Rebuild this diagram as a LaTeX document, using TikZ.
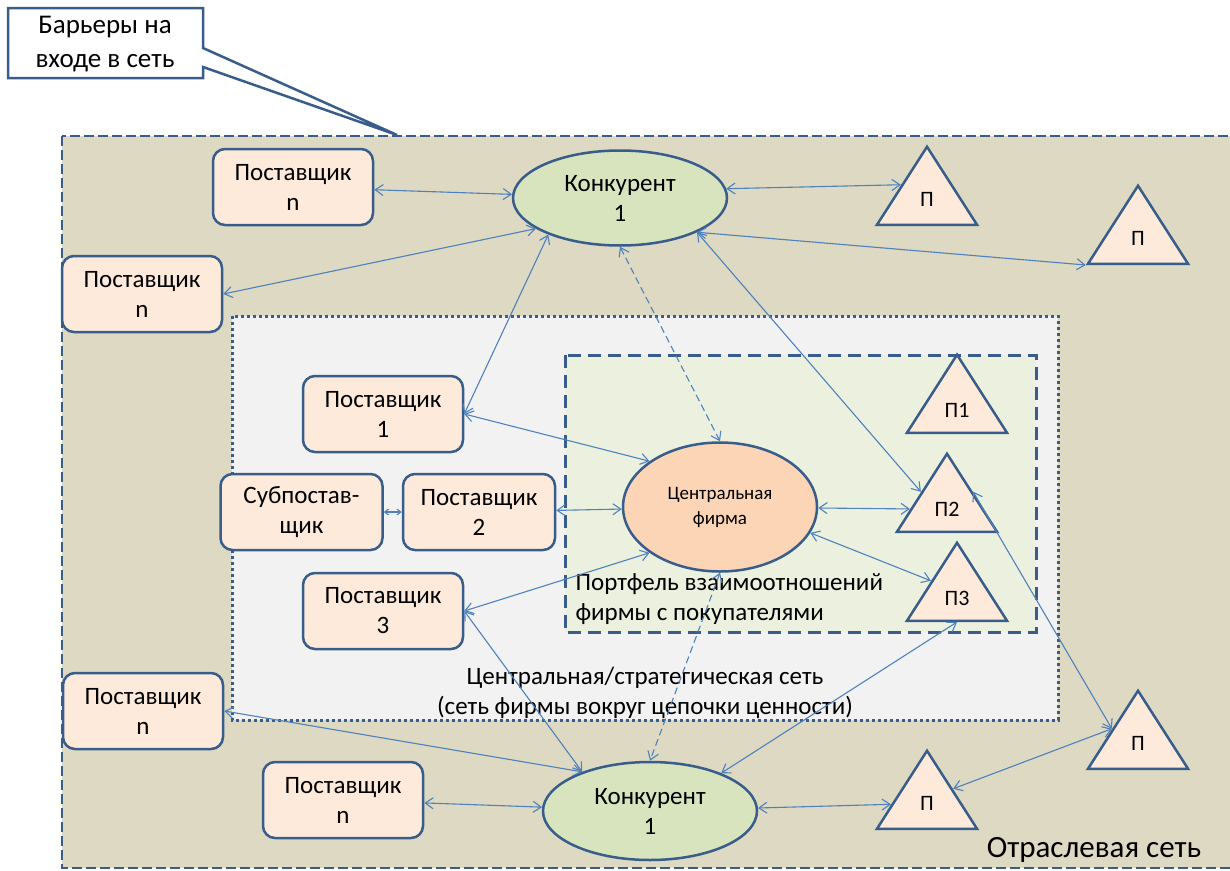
\documentclass[tikz,border=0pt]{standalone}
\usepackage{fontspec}
\setmainfont{Carlito}
\usetikzlibrary{shapes.geometric,arrows.meta,positioning}

\definecolor{edgeblue}{RGB}{56,93,138}
\definecolor{linkblue}{RGB}{79,129,189}
\definecolor{sandbg}{RGB}{221,217,195}
\definecolor{greybg}{RGB}{242,242,242}
\definecolor{greenbg}{RGB}{235,241,222}
\definecolor{peachfill}{RGB}{253,234,218}
\definecolor{firmfill}{RGB}{251,213,181}
\definecolor{rivalfill}{RGB}{215,228,189}

\begin{document}
\begin{tikzpicture}[x=1pt, y=-1pt, every node/.style={font=\fontsize{25}{30}\selectfont, align=center}]
        \tikzstyle{supplier} = [rectangle, rounded corners=12pt, draw=edgeblue, line width=2.5pt,
            fill=peachfill, minimum width=160pt, minimum height=76pt, inner sep=2pt]
        \tikzstyle{rival} = [ellipse, draw=edgeblue, line width=2.5pt, fill=rivalfill,
            minimum width=214pt, minimum height=95pt, inner sep=1pt]
        \tikzstyle{client} = [isosceles triangle, isosceles triangle stretches, shape border rotate=90,
            draw=edgeblue, line width=2.5pt, fill=peachfill, minimum width=100pt, minimum height=78pt,
            inner sep=1pt, font=\fontsize{22}{24}\selectfont]
        \tikzstyle{link} = [{Straight Barb[length=8pt,width=11pt]}-{Straight Barb[length=8pt,width=11pt]},
            draw=linkblue, line width=1.1pt]
        \tikzstyle{dlink} = [link, dash pattern=on 7pt off 4pt]

        \useasboundingbox (0,0) rectangle (1230,870);

        % nested networks
        \draw [draw=edgeblue, line width=2.5pt, fill=sandbg, dash pattern=on 10pt off 4pt] (62,136) rectangle (1250,868);
        \draw [draw=edgeblue, line width=3pt, fill=greybg, dash pattern=on 3pt off 3pt] (232,316) rectangle (1058,720);
        \draw [draw=edgeblue, line width=3pt, fill=greenbg, dash pattern=on 13pt off 7pt] (565,355) rectangle (1036,632);

        % callout
        \draw [draw=edgeblue, line width=2.5pt, fill=white] (8,8) -- (203,8) -- (203,48) -- (397,135)
            -- (203,67) -- (203,78) -- (8,78) -- cycle;
        \node (barrier) [font=\fontsize{27}{34}\selectfont] at (105,44) {Барьеры на\\входе в сеть};

        \node (netlbl) at (645,693) {Центральная/стратегическая сеть\\(сеть фирмы вокруг цепочки ценности)};
        \node (portlbl) [anchor=west, align=left] at (572,599) {Портфель взаимоотношений\\фирмы с покупателями};
        \node (indlbl) [font=\fontsize{31}{34}\selectfont] at (1094,850) {Отраслевая сеть};

        \node (pnA) [supplier] at (293,187) {Поставщик\\n};
        \node (pnB) [supplier] at (142,294) {Поставщик\\n};
        \node (k1) [rival] at (620,198) {Конкурент\\1};
        \node (pa) [client, anchor=lower side] at (927,226) {П};
        \node (pb) [client, anchor=lower side] at (1138,265) {П};

        \node (p1s) [supplier] at (383,414) {Поставщик\\1};
        \node (p2s) [supplier, minimum width=152pt] at (479,512) {Поставщик\\2};
        \node (sub) [supplier, minimum width=162pt, left=18pt of p2s] {Субпостав-\\щик};
        \node (p3s) [supplier] at (383,611) {Поставщик\\3};
        \node (cf) [rival, fill=firmfill, minimum width=194pt, minimum height=129pt,
            font=\fontsize{19}{25}\selectfont] at (720,507) {Центральная\\фирма};
        \node (pc1) [client, anchor=lower side] at (957,434) {П1};
        \node (pc2) [client, anchor=lower side] at (947,533) {П2};
        \node (pc3) [client, anchor=lower side] at (957,622) {П3};

        \node (pnC) [supplier] at (143,711) {Поставщик\\n};
        \node (pnD) [supplier] at (343,800) {Поставщик\\n};
        \node (k2) [rival, minimum height=98pt] at (650,811) {Конкурент\\1};
        \node (pd) [client, anchor=lower side] at (927,830) {П};
        \node (pe) [client, anchor=lower side] at (1138,770) {П};

        \draw [link] (pnA) -- (k1);
        \draw [link] (k1.5) -- (pa.left side);
        \draw [link] (k1.-24) -- (pb.left corner);
        \draw [link] (pnB.east) -- (k1.200);
        \draw [link] (k1.207) -- (p1s.east);
        \draw [dlink] (k1.south) -- (cf.north);
        \draw [link] (k1.-24) -- (pc2.left side);
        \draw [link] (p1s.east) -- (cf.147);
        \draw [link] (p2s) -- (cf);
        \draw [link, {Straight Barb[length=4pt,width=6pt]}-{Straight Barb[length=4pt,width=6pt]}] (sub) -- (p2s);
        \draw [link] (p3s.east) -- (cf.213);
        \draw [link] (cf) -- (pc2);
        \draw [link] (cf.-16) -- (pc3.left side);
        \draw [dlink] (cf.south) -- (k2.north);
        \draw [link] (p3s.east) -- (k2.150);
        \draw [link] (pc3.lower side) -- (k2.28);
        \draw [link] (pnC.east) -- (k2.150);
        \draw [link] (pnD) -- (k2);
        \draw [link] (k2) -- (pd);
        \draw [link] (pd.right side) -- (pe.left side);
        \draw [link] (pc2.right side) -- (pe.left side);
    \end{tikzpicture}
\end{document}
